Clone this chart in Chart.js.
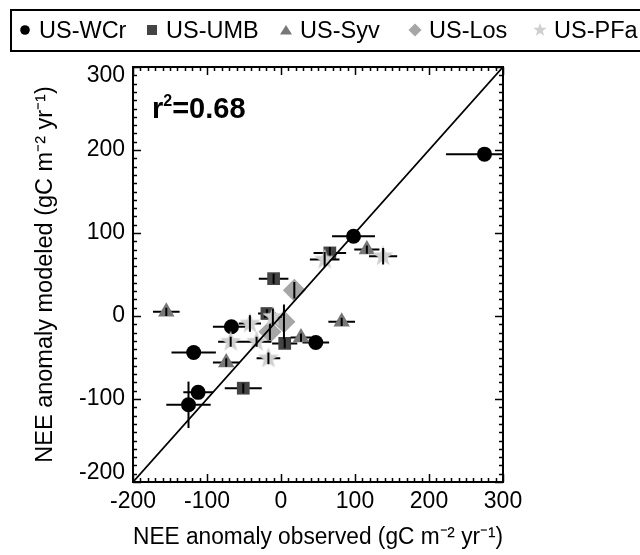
<!DOCTYPE html>
<html>
<head>
<meta charset="utf-8">
<script src="https://cdn.jsdelivr.net/npm/chart.js@4.4.1/dist/chart.umd.min.js"></script>
<style>
  html, body { margin: 0; padding: 0; background: #ffffff; }
  canvas { display: block; }
</style>
</head>
<body>
<canvas id="c" width="640" height="555"></canvas>
<script>
// ---------- data ----------
const seriesNames = ['US-WCr', 'US-UMB', 'US-Syv', 'US-Los', 'US-PFa'];

const wcrObs    = [275, 98, -67, -118, -112, -125, 47];
const wcrMod    = [195, 96, -13, -44, -92, -107, -32];
const wcrObsErr = [52, 29, 25, 30, 20, 30, 18];
const wcrModErr = [0, 0, 0, 0, 0, 28, 0];

const umbObs    = [66, -10, -19, 5, -51];
const umbMod    = [76, 45, 3, -33, -87];
const umbObsErr = [22, 20, 12, 17, 25];
const umbModErr = [7, 6, 5, 6, 6];

const syvObs    = [-155, 116, 82, 27, -74];
const syvMod    = [5, 80, -7, -26, -56];
const syvObsErr = [18, 17, 18, 14, 18];
const syvModErr = [5, 5, 5, 5, 5];

const losObs    = [18, 4, -15];
const losMod    = [31, -7, -19];
const losObsErr = [8, 10, 8];
const losModErr = [10, 21, 10];

const pfaObs    = [138, 59, -68, -33, -17, -42, -11];
const pfaMod    = [72, 68, -31, -31, -51, -9, -1];
const pfaObsErr = [19, 20, 17, 20, 16, 15, 12];
const pfaModErr = [10, 9, 6, 6, 7, 10, 10];

const oneToOne  = [-200, 300];
const xTicks    = [-200, -100, 0, 100, 200, 300];
const yTicks    = [-200, -100, 0, 100, 200, 300];
const r2Text    = '0.68';
const xTitle    = 'NEE anomaly observed (gC m\u207B\u00B2 yr\u207B\u00B9)';
const yTitle    = 'NEE anomaly modeled (gC m\u207B\u00B2 yr\u207B\u00B9)';

// ---------- helpers ----------
const FONT = '"Liberation Sans", Arial, Helvetica, sans-serif';
function pts(xs, ys) { return xs.map((x, i) => ({ x: x, y: ys[i] })); }
function makeStar(rOuter, rInner, color) {
  const c = document.createElement('canvas');
  const s = Math.ceil(rOuter * 2 + 2);
  c.width = s; c.height = s;
  const g = c.getContext('2d');
  g.fillStyle = color;
  g.beginPath();
  for (let i = 0; i < 10; i++) {
    const r = (i % 2) ? rInner : rOuter;
    const a = -Math.PI / 2 + i * Math.PI / 5;
    g.lineTo(s / 2 + r * Math.cos(a), s / 2 + r * Math.sin(a));
  }
  g.closePath(); g.fill();
  return c;
}
const starColor = '#cfcfcf';
const starBig = makeStar(11, 4.6, starColor);
const starSmall = makeStar(7, 2.9, starColor);

const colors = ['#000000', '#444444', '#777777', '#a6a6a6', starColor];

// ---------- plugins ----------
function drawBars(chart, index, axis) {
  const ds = chart.data.datasets[index];
  if (!ds.errObs) return;
  const xs = chart.scales.x, ys = chart.scales.y, a = chart.chartArea, ctx = chart.ctx;
  ctx.save();
  ctx.beginPath();
  ctx.rect(a.left, a.top, a.right - a.left, a.bottom - a.top);
  ctx.clip();
  ctx.strokeStyle = '#000';
  ctx.lineWidth = 2;
  ctx.lineCap = 'butt';
  ctx.beginPath();
  ds.data.forEach((p, i) => {
    if (axis === 'x') {
      const e = ds.errObs[i];
      if (!e) return;
      const py = ys.getPixelForValue(p.y);
      ctx.moveTo(xs.getPixelForValue(p.x - e), py);
      ctx.lineTo(xs.getPixelForValue(p.x + e), py);
    } else {
      const e = ds.errMod[i];
      if (!e) return;
      const px = xs.getPixelForValue(p.x);
      ctx.moveTo(px, ys.getPixelForValue(p.y - e));
      ctx.lineTo(px, ys.getPixelForValue(p.y + e));
    }
  });
  ctx.stroke();
  ctx.restore();
}
const errorBars = {
  id: 'errorBars',
  beforeDatasetDraw(chart, args) { drawBars(chart, args.index, 'x'); },
  afterDatasetDraw(chart, args) { drawBars(chart, args.index, 'y'); }
};

const frameTicks = {
  id: 'frameTicks',
  afterDraw(chart) {
    const ctx = chart.ctx, a = chart.chartArea, xs = chart.scales.x, ys = chart.scales.y;
    ctx.save();
    ctx.strokeStyle = '#000';
    ctx.lineWidth = 1.5;
    ctx.beginPath();
    for (let v = xs.min; v <= xs.max + 1e-9; v += 10) {
      const px = Math.round(xs.getPixelForValue(v)) + 0.5;
      const len = (Math.round(v) % 100 === 0) ? 8 : 4;
      ctx.moveTo(px, a.bottom); ctx.lineTo(px, a.bottom - len);
      ctx.moveTo(px, a.top); ctx.lineTo(px, a.top + len);
    }
    for (let v = ys.min; v <= ys.max + 1e-9; v += 10) {
      const py = Math.round(ys.getPixelForValue(v)) + 0.5;
      const len = (Math.round(v) % 100 === 0) ? 8 : 4;
      ctx.moveTo(a.left, py); ctx.lineTo(a.left + len, py);
      ctx.moveTo(a.right, py); ctx.lineTo(a.right - len, py);
    }
    ctx.stroke();
    ctx.lineWidth = 2;
    ctx.strokeRect(a.left, a.top, a.right - a.left, a.bottom - a.top);

    // r^2 annotation
    ctx.fillStyle = '#000';
    ctx.textBaseline = 'alphabetic';
    ctx.textAlign = 'left';
    let x = a.left + 19, y = a.top + 51;
    ctx.font = 'bold 29px ' + FONT;
    ctx.fillText('r', x, y); x += ctx.measureText('r').width;
    ctx.font = 'bold 16px ' + FONT;
    ctx.fillText('2', x, y - 12); x += ctx.measureText('2').width;
    ctx.font = 'bold 29px ' + FONT;
    ctx.fillText('=' + r2Text, x, y);
    ctx.restore();
  }
};

const legendBox = {
  id: 'legendBox',
  afterDraw(chart) {
    const ctx = chart.ctx;
    ctx.save();
    ctx.strokeStyle = '#000';
    ctx.lineWidth = 2;
    ctx.strokeRect(11, 10, 700, 41);
    const mx = [25, 152, 286, 415, 540];
    const cy = 30;
    ctx.font = '23.5px ' + FONT;
    ctx.textBaseline = 'alphabetic';
    ctx.textAlign = 'left';
    seriesNames.forEach((name, i) => {
      ctx.fillStyle = colors[i];
      const x = mx[i];
      ctx.beginPath();
      if (i === 0) { ctx.arc(x, cy, 4.8, 0, Math.PI * 2); ctx.fill(); }
      else if (i === 1) { ctx.fillRect(x - 5, cy - 5, 10, 10); }
      else if (i === 2) { ctx.moveTo(x - 6, cy + 4.5); ctx.lineTo(x + 6, cy + 4.5); ctx.lineTo(x, cy - 5); ctx.closePath(); ctx.fill(); }
      else if (i === 3) { ctx.moveTo(x, cy - 6.5); ctx.lineTo(x + 6.5, cy); ctx.lineTo(x, cy + 6.5); ctx.lineTo(x - 6.5, cy); ctx.closePath(); ctx.fill(); }
      else { ctx.drawImage(starSmall, x - starSmall.width / 2, cy - starSmall.height / 2); }
      ctx.fillStyle = '#000';
      ctx.fillText(name, x + 14, 37.5);
    });
    ctx.restore();
  }
};

// ---------- chart ----------
const ctx = document.getElementById('c').getContext('2d');
new Chart(ctx, {
  type: 'scatter',
  data: {
    datasets: [
      { type: 'line', label: '1:1', data: pts(oneToOne, oneToOne), borderColor: '#000', borderWidth: 1.8,
        pointRadius: 0, fill: false, order: 0 },
      { label: seriesNames[4], data: pts(pfaObs, pfaMod), errObs: pfaObsErr, errMod: pfaModErr,
        pointStyle: starBig, pointRadius: 11, backgroundColor: colors[4], borderWidth: 0, order: 1 },
      { label: seriesNames[3], data: pts(losObs, losMod), errObs: losObsErr, errMod: losModErr,
        pointStyle: 'rectRot', pointRadius: 11.5, backgroundColor: colors[3], borderWidth: 0, order: 2 },
      { label: seriesNames[2], data: pts(syvObs, syvMod), errObs: syvObsErr, errMod: syvModErr,
        pointStyle: 'triangle', pointRadius: 9.5, backgroundColor: colors[2], borderWidth: 0, order: 3 },
      { label: seriesNames[1], data: pts(umbObs, umbMod), errObs: umbObsErr, errMod: umbModErr,
        pointStyle: 'rect', pointRadius: 9, backgroundColor: colors[1], borderWidth: 0, order: 4 },
      { label: seriesNames[0], data: pts(wcrObs, wcrMod), errObs: wcrObsErr, errMod: wcrModErr,
        pointStyle: 'circle', pointRadius: 7.5, backgroundColor: colors[0], borderWidth: 0, order: 5 }
    ]
  },
  options: {
    responsive: false,
    animation: false,
    events: [],
    layout: { padding: { left: 0, top: 67, right: 137, bottom: 0 } },
    plugins: { legend: { display: false }, tooltip: { enabled: false } },
    scales: {
      x: {
        type: 'linear', min: xTicks[0], max: xTicks[xTicks.length - 1],
        afterBuildTicks(s) { s.ticks = xTicks.map(v => ({ value: v })); },
        afterFit(s) { s.height = 73; },
        grid: { display: false, drawTicks: false },
        border: { display: false },
        ticks: { color: '#000', font: { family: FONT, size: 23 }, padding: 6, maxRotation: 0, autoSkip: false },
        title: { display: true, text: xTitle, color: '#000', font: { family: FONT, size: 23.5 }, padding: { top: 0, bottom: 3 } }
      },
      y: {
        type: 'linear', min: yTicks[0], max: yTicks[yTicks.length - 1],
        afterBuildTicks(s) { s.ticks = yTicks.map(v => ({ value: v })); },
        afterFit(s) { s.width = 133; },
        grid: { display: false, drawTicks: false },
        border: { display: false },
        ticks: {
          color: '#000', font: { family: FONT, size: 23, lineHeight: '18px' }, padding: 8, autoSkip: false,
          callback(v) {
            const s = String(v);
            if (v === yTicks[yTicks.length - 1]) return ['', s];
            if (v === yTicks[0]) return [s, ''];
            return s;
          }
        },
        title: { display: true, text: yTitle, color: '#000', font: { family: FONT, size: 23.5 }, padding: { top: 31, bottom: 0 } }
      }
    }
  },
  plugins: [errorBars, frameTicks, legendBox]
});
</script>
</body>
</html>
